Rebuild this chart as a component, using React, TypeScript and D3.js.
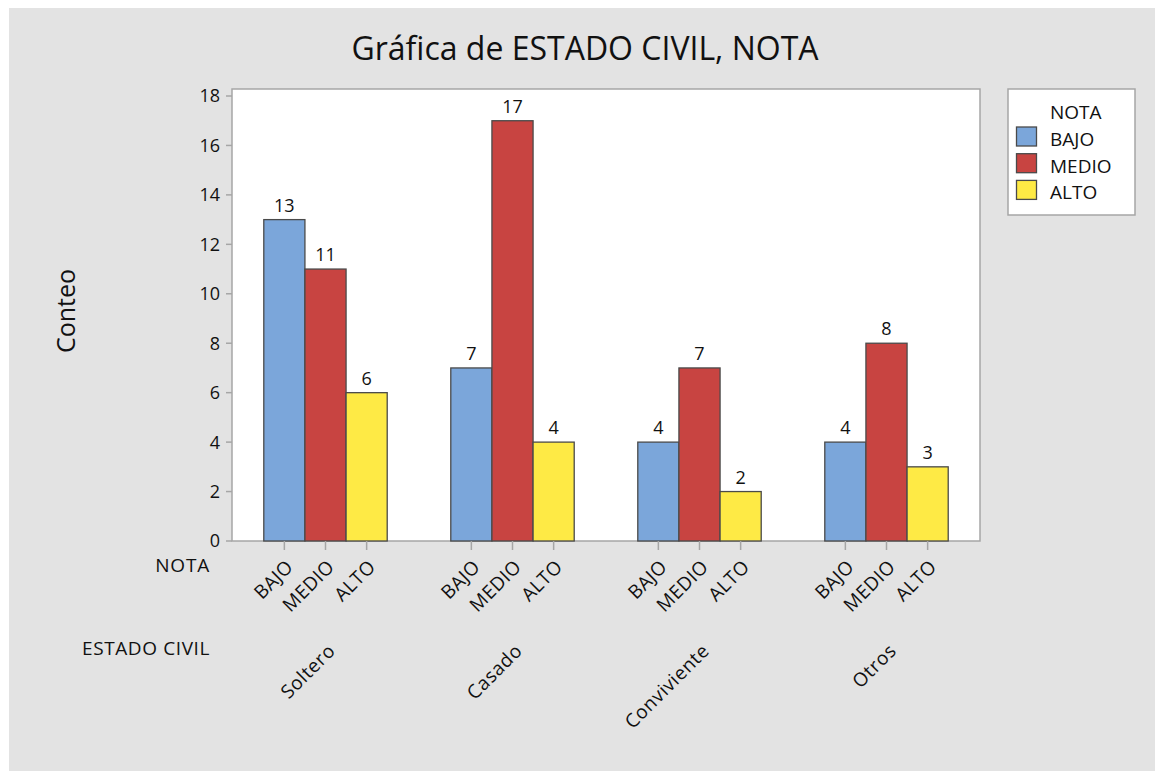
import { useEffect, useRef } from 'react';
import * as d3 from 'd3';

const estados = ['Soltero', 'Casado', 'Conviviente', 'Otros'];
const notas = ['BAJO', 'MEDIO', 'ALTO'];
const bajo = [13, 7, 4, 4];
const medio = [11, 17, 7, 8];
const alto = [6, 4, 2, 3];
const yTicks = [0, 2, 4, 6, 8, 10, 12, 14, 16, 18];

const colors = ['#7BA6DA', '#C84441', '#FEEA45'];
const FONT = "'Open Sans', 'DejaVu Sans', sans-serif";

const App = () => {
  const svgRef = useRef<SVGSVGElement | null>(null);

  useEffect(() => {
    if (!svgRef.current) return;
    const svg = d3.select(svgRef.current);
    svg.selectAll('*').remove();

    const width = 1155;
    const height = 771;
    const plot = { left: 232, right: 980, top: 89, bottom: 541 };

    // background panel
    svg.append('rect').attr('width', width).attr('height', height).attr('fill', '#ffffff');
    svg.append('rect').attr('x', 9).attr('y', 8).attr('width', width - 9).attr('height', height - 8).attr('fill', '#E3E3E3');

    // title
    svg.append('text')
      .attr('x', 585).attr('y', 60)
      .attr('text-anchor', 'middle')
      .style('font', `32px ${FONT}`)
      .attr('fill', '#111')
      .text('Gráfica de ESTADO CIVIL, NOTA');

    const x0 = d3.scaleBand<string>()
      .domain(estados)
      .range([plot.left, plot.right])
      .paddingInner(0.34)
      .paddingOuter(0.17);

    const x1 = d3.scaleBand<string>()
      .domain(notas)
      .range([0, x0.bandwidth()]);

    const y = d3.scaleLinear().domain([0, 18]).range([541, 96]);

    // plot area
    svg.append('rect')
      .attr('x', plot.left).attr('y', plot.top)
      .attr('width', plot.right - plot.left).attr('height', plot.bottom - plot.top)
      .attr('fill', '#ffffff')
      .attr('stroke', '#A6A6A6').attr('stroke-width', 1.5);

    const series = [bajo, medio, alto];
    const rows = estados.flatMap((e, i) => notas.map((n, j) => ({ e, n, j, v: series[j][i] })));
    const cxOf = (d: { e: string; n: string }) => (x0(d.e) ?? 0) + (x1(d.n) ?? 0) + x1.bandwidth() / 2;

    // bars
    svg.append('g')
      .selectAll('rect')
      .data(rows)
      .join('rect')
      .attr('x', d => (x0(d.e) ?? 0) + (x1(d.n) ?? 0))
      .attr('y', d => y(d.v))
      .attr('width', x1.bandwidth())
      .attr('height', d => y(0) - y(d.v))
      .attr('fill', d => colors[d.j])
      .attr('stroke', '#4A4A4A')
      .attr('stroke-width', 1.3);

    // value labels
    svg.append('g')
      .selectAll('text')
      .data(rows)
      .join('text')
      .attr('x', d => cxOf(d))
      .attr('y', d => y(d.v) - 8)
      .attr('text-anchor', 'middle')
      .style('font', `18px ${FONT}`)
      .attr('fill', '#111')
      .text(d => d.v);

    // y axis
    const yAxis = svg.append('g');
    yAxis.selectAll('line')
      .data(yTicks)
      .join('line')
      .attr('x1', plot.left - 6).attr('x2', plot.left)
      .attr('y1', d => y(d)).attr('y2', d => y(d))
      .attr('stroke', '#A6A6A6').attr('stroke-width', 1.5);
    yAxis.selectAll('text')
      .data(yTicks)
      .join('text')
      .attr('x', plot.left - 12)
      .attr('y', d => y(d))
      .attr('dy', '0.36em')
      .attr('text-anchor', 'end')
      .style('font', `18px ${FONT}`)
      .attr('fill', '#111')
      .text(d => d);

    svg.append('text')
      .attr('transform', 'translate(75,311) rotate(-90)')
      .attr('text-anchor', 'middle')
      .style('font', `25px ${FONT}`)
      .attr('fill', '#111')
      .text('Conteo');

    // x ticks + nota labels
    const xAxis = svg.append('g');
    xAxis.selectAll('line')
      .data(rows)
      .join('line')
      .attr('x1', d => cxOf(d))
      .attr('x2', d => cxOf(d))
      .attr('y1', plot.bottom).attr('y2', plot.bottom + 9)
      .attr('stroke', '#A6A6A6').attr('stroke-width', 1.5);
    xAxis.selectAll('text')
      .data(rows)
      .join('text')
      .attr('transform', d => `translate(${cxOf(d) + 10},${plot.bottom + 27}) rotate(-45)`)
      .attr('text-anchor', 'end')
      .style('font', `19px ${FONT}`)
      .style('letter-spacing', '0.4px')
      .attr('fill', '#111')
      .text(d => d.n);

    // estado labels
    svg.append('g')
      .selectAll('text')
      .data(estados)
      .join('text')
      .attr('transform', d => `translate(${(x0(d) ?? 0) + x0.bandwidth() / 2 + 11},652) rotate(-45)`)
      .attr('text-anchor', 'end')
      .style('font', `19px ${FONT}`)
      .style('letter-spacing', '0.6px')
      .attr('fill', '#111')
      .text(d => d);

    svg.append('text')
      .attr('x', 210).attr('y', 572)
      .attr('text-anchor', 'end')
      .style('font', `19px ${FONT}`)
      .style('letter-spacing', '0.8px')
      .attr('fill', '#111')
      .text('NOTA');
    svg.append('text')
      .attr('x', 210).attr('y', 655)
      .attr('text-anchor', 'end')
      .style('font', `19px ${FONT}`)
      .style('letter-spacing', '0.6px')
      .attr('fill', '#111')
      .text('ESTADO CIVIL');

    // legend
    const lg = svg.append('g');
    lg.append('rect')
      .attr('x', 1008).attr('y', 89)
      .attr('width', 127).attr('height', 126)
      .attr('fill', '#ffffff')
      .attr('stroke', '#A6A6A6').attr('stroke-width', 1.5);
    lg.append('text')
      .attr('x', 1050).attr('y', 112)
      .attr('dy', '0.36em')
      .style('font', `19px ${FONT}`)
      .attr('fill', '#111')
      .text('NOTA');
    const items = lg.selectAll('g.item')
      .data(notas)
      .join('g')
      .attr('class', 'item')
      .attr('transform', (d, i) => `translate(0,${127 + i * 26.7})`);
    items.append('rect')
      .attr('x', 1016.5).attr('y', 0)
      .attr('width', 20).attr('height', 19)
      .attr('fill', (d, i) => colors[i])
      .attr('stroke', '#4A4A4A').attr('stroke-width', 1.3);
    items.append('text')
      .attr('x', 1050).attr('y', 12)
      .attr('dy', '0.36em')
      .style('font', `19px ${FONT}`)
      .attr('fill', '#111')
      .text(d => d);
  }, []);

  return (
    <div style={{ position: 'absolute', left: 0, top: 0 }}>
      <svg ref={svgRef} width={1155} height={771} style={{ display: 'block' }}></svg>
    </div>
  );
};

export default App;
